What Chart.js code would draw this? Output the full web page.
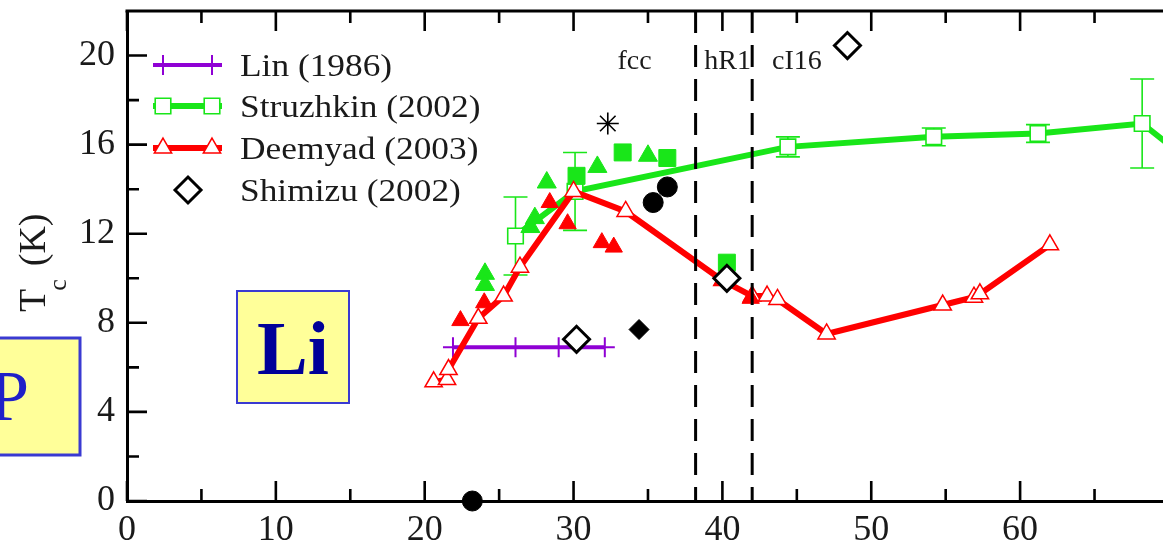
<!DOCTYPE html>
<html>
<head>
<meta charset="utf-8">
<script src="https://cdn.jsdelivr.net/npm/chart.js@4.4.1/dist/chart.umd.min.js"></script>
<style>
  html,body{margin:0;padding:0;background:#fff;overflow:hidden}
  #wrap{position:relative;width:1163px;height:544px}
</style>
</head>
<body>
<div id="wrap"><canvas id="tc" width="1163" height="544"></canvas></div>
<script>
// ===================== DADOS (pressão em GPa, Tc em K) =====================
const xTicks = [0,10,20,30,40,50,60];
const xMinor = [5,15,25,35,45,55,65];
const yTicks = [0,4,8,12,16,20];
const yMinor = [2,6,10,14,18];

// limites de fase (linhas tracejadas) e rótulos
const phaseBounds  = [38.2, 42.0];
const phaseLabels  = ['fcc','hR1','cI16'];
const phaseLabelP  = [34.1, 40.35, 45.0];
const phaseLabelTc = 19.4;

// Lin (1986)
const linP  = [21.9, 26.1, 29.0, 32.1];
const linTc = [6.9, 6.9, 6.9, 6.9];

// Struzhkin (2002) — último ponto fica fora do quadro
const struzP   = [26.1, 30.1, 44.4, 54.2, 61.2, 68.2, 71.5];
const struzTc  = [11.9, 13.9, 15.9, 16.35, 16.5, 16.95, 15.2];
const struzErr = [1.75, 1.75, 0.45, 0.4, 0.4, 2.0, 0];

// Deemyad (2003)
const deemP  = [20.6, 21.5, 21.6, 23.6, 25.3, 26.4, 30.0, 33.5, 40.0, 42.0, 43.0, 43.7, 47.0, 54.8, 56.9, 57.3, 62.0];
const deemTc = [5.35, 5.45, 5.9, 8.2, 9.2, 10.5, 13.9, 13.0, 9.9, 9.2, 9.2, 9.05, 7.5, 8.8, 9.15, 9.3, 11.5];

// Shimizu (2002)
const shimP  = [30.2, 40.3, 48.4];
const shimTc = [7.26, 10.0, 20.45];

// pontos sem legenda
const redFillP  = [22.4, 24.0, 28.4, 29.6, 31.9, 32.7, 40.0, 41.9];
const redFillTc = [8.1, 8.9, 13.4, 12.45, 11.6, 11.4, 9.9, 9.1];
const grnTriP   = [24.05, 24.05, 27.1, 27.4, 28.2, 31.6, 35.0];
const grnTriTc  = [10.2, 9.7, 12.3, 12.7, 14.3, 15.0, 15.5];
const grnSqP    = [30.2, 33.3, 36.3, 40.3];
const grnSqTc   = [14.6, 15.65, 15.4, 10.7];
const blkDotP   = [23.2, 35.35, 36.3];
const blkDotTc  = [0, 13.4, 14.1];
const blkDiaP   = [34.4];
const blkDiaTc  = [7.7];
const starP     = [32.3];
const starTc    = [16.95];

const COL = {red:'#ff0000', green:'#19e619', purple:'#8f00d4', black:'#000', ink:'#1a1a1a'};
const SERIF = '"Liberation Serif","DejaVu Serif",serif';

const pts = (xs,ys)=>xs.map((v,i)=>({x:v,y:ys[i]}));

// ===================== PLUGINS =====================
const errorBars = {
  id:'errorBars',
  beforeDatasetsDraw(chart){
    const {ctx, scales:{x,y}} = chart;
    ctx.save();
    ctx.strokeStyle = COL.green; ctx.lineWidth = 1.6;
    ctx.beginPath();
    struzP.forEach((p,i)=>{
      if(!struzErr[i]) return;
      const px = x.getPixelForValue(p);
      const top = y.getPixelForValue(struzTc[i]+struzErr[i]);
      const bot = y.getPixelForValue(struzTc[i]-struzErr[i]);
      ctx.moveTo(px,top); ctx.lineTo(px,bot);
      ctx.moveTo(px-12,top); ctx.lineTo(px+12,top);
      ctx.moveTo(px-12,bot); ctx.lineTo(px+12,bot);
    });
    ctx.stroke();
    ctx.restore();
  }
};

const frame = {
  id:'frame',
  afterDatasetsDraw(chart){
    const {ctx, chartArea:a, scales:{x,y}} = chart;
    ctx.save();
    // linhas de fase
    ctx.strokeStyle = '#000'; ctx.lineWidth = 3; ctx.setLineDash([22,12]);
    phaseBounds.forEach(p=>{
      const px = x.getPixelForValue(p);
      ctx.beginPath(); ctx.moveTo(px,a.top); ctx.lineTo(px,a.bottom); ctx.stroke();
    });
    ctx.setLineDash([]);
    // borda superior
    ctx.lineWidth = 3;
    ctx.beginPath(); ctx.moveTo(a.left-1.5,a.top); ctx.lineTo(a.right,a.top); ctx.stroke();
    // ticks para dentro
    ctx.lineWidth = 2.6;
    ctx.beginPath();
    const xt = (v,len)=>{ const px=x.getPixelForValue(v);
      ctx.moveTo(px,a.bottom); ctx.lineTo(px,a.bottom-len);
      ctx.moveTo(px,a.top); ctx.lineTo(px,a.top+len); };
    const yt = (v,len)=>{ const py=y.getPixelForValue(v);
      ctx.moveTo(a.left,py); ctx.lineTo(a.left+len,py); };
    xTicks.forEach(v=>xt(v,20)); xMinor.forEach(v=>xt(v,12));
    yTicks.forEach(v=>yt(v,20)); yMinor.forEach(v=>yt(v,12));
    ctx.stroke();
    // rótulos das fases
    ctx.fillStyle = COL.ink; ctx.font = '28px '+SERIF;
    ctx.textAlign = 'center'; ctx.textBaseline = 'alphabetic';
    const ty = y.getPixelForValue(phaseLabelTc);
    phaseLabels.forEach((t,i)=>ctx.fillText(t, x.getPixelForValue(phaseLabelP[i]), ty));
    ctx.restore();
  }
};

function marker(ctx, ds, px, py){
  ctx.save();
  ctx.fillStyle = ds.pointBackgroundColor;
  ctx.strokeStyle = ds.pointBorderColor;
  ctx.lineWidth = ds.pointBorderWidth;
  Chart.helpers.drawPoint(ctx, {pointStyle:ds.pointStyle, radius:ds.pointRadius, rotation:0, borderWidth:ds.pointBorderWidth}, px, py);
  ctx.restore();
}

const overlay = {
  id:'overlay',
  afterDraw(chart){
    const ctx = chart.ctx;
    ctx.save();
    // legenda
    const rows = [['Lin (1986)',65],['Struzhkin (2002)',106],['Deemyad (2003)',148],['Shimizu (2002)',190]];
    rows.forEach(([lab,ry])=>{
      const ds = chart.data.datasets.find(d=>d.label===lab);
      if(ds.showLine){
        ctx.strokeStyle = ds.borderColor; ctx.lineWidth = ds.borderWidth;
        ctx.beginPath(); ctx.moveTo(153,ry); ctx.lineTo(222,ry); ctx.stroke();
        marker(ctx, ds, 163, ry); marker(ctx, ds, 212, ry);
      } else {
        marker(ctx, ds, 188, ry);
      }
      ctx.save();
      ctx.translate(240, ry+11); ctx.scale(1.14,1);
      ctx.fillStyle = COL.ink; ctx.font = '31px '+SERIF; ctx.textBaseline='alphabetic'; ctx.textAlign='left';
      ctx.fillText(lab, 0, 0);
      ctx.restore();
    });
    // título do eixo y: T_c (K)
    ctx.save();
    ctx.translate(45, 312); ctx.rotate(-Math.PI/2);
    ctx.fillStyle = COL.ink; ctx.textAlign='left'; ctx.textBaseline='alphabetic';
    ctx.font = '38px '+SERIF; ctx.fillText('T',0,0);
    let w = ctx.measureText('T').width - 2;
    ctx.font = '26px '+SERIF; ctx.fillText('c', w, 21);
    w += ctx.measureText('c').width + 13;
    ctx.font = '38px '+SERIF; ctx.fillText('(K)', w, 0);
    ctx.restore();
    // caixa "Li"
    ctx.fillStyle = '#ffff99'; ctx.strokeStyle = '#3a3ad2'; ctx.lineWidth = 2;
    ctx.fillRect(237,291,112,112); ctx.strokeRect(237,291,112,112);
    ctx.fillStyle = '#000099'; ctx.font = 'bold 76px '+SERIF; ctx.textAlign='center';
    ctx.fillText('Li', 293, 374);
    // caixa "P" (cortada na borda)
    ctx.fillStyle = '#ffff99'; ctx.strokeStyle = '#3a3ad2'; ctx.lineWidth = 3;
    ctx.fillRect(-40,338,120,117); ctx.strokeRect(-40,338,120,117);
    ctx.fillStyle = '#2020c8'; ctx.font = '71px '+SERIF; ctx.textAlign='right';
    ctx.fillText('P', 29, 420);
    ctx.restore();
  }
};

// escalas com tamanho fixo, sem margem extra para os rótulos
const fixBox = (w,h)=>s=>{
  if(w!=null) s.width = w;
  if(h!=null) s.height = h;
  s.paddingLeft = s.paddingRight = s.paddingTop = s.paddingBottom = 0;
};

// ===================== GRÁFICO =====================
const scatterBase = {showLine:false, clip:false};

new Chart(document.getElementById('tc').getContext('2d'), {
  type:'scatter',
  data:{datasets:[
    {...scatterBase, label:'Shimizu (2002)', data:pts(shimP,shimTc),
      pointStyle:'rectRot', pointRadius:13, pointBackgroundColor:'#fff', pointBorderColor:COL.black, pointBorderWidth:3},
    {...scatterBase, label:'blk-dia', data:pts(blkDiaP,blkDiaTc),
      pointStyle:'rectRot', pointRadius:10, pointBackgroundColor:COL.black, pointBorderColor:COL.black, pointBorderWidth:1},
    {...scatterBase, label:'blk-dot', data:pts(blkDotP,blkDotTc),
      pointStyle:'circle', pointRadius:10, pointBackgroundColor:COL.black, pointBorderColor:COL.black, pointBorderWidth:1},
    {...scatterBase, label:'star', data:pts(starP,starTc),
      pointStyle:'star', pointRadius:11, pointBackgroundColor:'#000', pointBorderColor:'#000', pointBorderWidth:1.6},
    {...scatterBase, label:'red-fill', data:pts(redFillP,redFillTc),
      pointStyle:'triangle', pointRadius:10, pointBackgroundColor:COL.red, pointBorderColor:COL.red, pointBorderWidth:1},
    {label:'Deemyad (2003)', data:pts(deemP,deemTc), showLine:true, clip:false, tension:0,
      borderColor:COL.red, borderWidth:6,
      pointStyle:'triangle', pointRadius:10, pointBackgroundColor:'#fff', pointBorderColor:COL.red, pointBorderWidth:1.5},
    {label:'Lin (1986)', data:pts(linP,linTc), showLine:true, clip:false, tension:0,
      borderColor:COL.purple, borderWidth:4,
      pointStyle:'cross', pointRadius:10, pointBackgroundColor:COL.purple, pointBorderColor:COL.purple, pointBorderWidth:2},
    {...scatterBase, label:'grn-sq', data:pts(grnSqP,grnSqTc),
      pointStyle:'rect', pointRadius:12, pointBackgroundColor:COL.green, pointBorderColor:COL.green, pointBorderWidth:1},
    {...scatterBase, label:'grn-tri', data:pts(grnTriP,grnTriTc),
      pointStyle:'triangle', pointRadius:11, pointBackgroundColor:COL.green, pointBorderColor:COL.green, pointBorderWidth:1},
    {label:'Struzhkin (2002)', data:pts(struzP,struzTc), showLine:true, clip:false, tension:0,
      borderColor:COL.green, borderWidth:6,
      pointStyle:'rect', pointRadius:11, pointBackgroundColor:'#fff', pointBorderColor:COL.green, pointBorderWidth:1.6}
  ]},
  options:{
    responsive:false, animation:false, devicePixelRatio:1, events:[],
    layout:{autoPadding:false, padding:{top:11,right:0,left:0,bottom:0}},
    plugins:{legend:{display:false}, tooltip:{enabled:false}},
    scales:{
      x:{type:'linear', min:0, max:69.6,
        afterBuildTicks:s=>{ s.ticks = xTicks.map(v=>({value:v})); },
        afterFit:fixBox(null,43),
        grid:{display:false, drawTicks:false},
        border:{display:true, color:'#000', width:3},
        ticks:{padding:8, color:COL.ink, font:{family:SERIF, size:36}, maxRotation:0}},
      y:{type:'linear', min:0, max:22,
        afterBuildTicks:s=>{ s.ticks = yTicks.map(v=>({value:v})); },
        afterFit:fixBox(127,null),
        grid:{display:false, drawTicks:false},
        border:{display:true, color:'#000', width:3},
        ticks:{padding:12, color:COL.ink, font:{family:SERIF, size:36}}}
    }
  },
  plugins:[errorBars, frame, overlay]
});
</script>
</body>
</html>
